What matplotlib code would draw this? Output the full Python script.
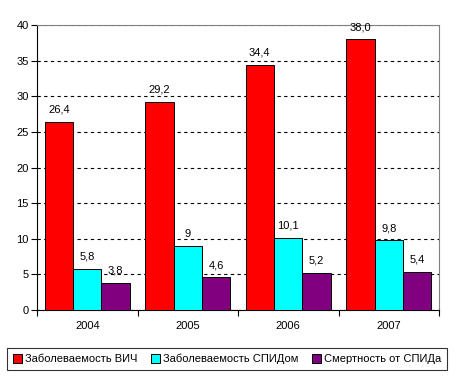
import matplotlib
matplotlib.use("Agg")
import matplotlib.pyplot as plt
import numpy as np
from matplotlib.patches import Patch

years = ["2004", "2005", "2006", "2007"]
hiv = [26.4, 29.2, 34.4, 38.0]
aids = [5.8, 9.0, 10.1, 9.8]
deaths = [3.8, 4.6, 5.2, 5.4]
hiv_lbl = ["26,4", "29,2", "34,4", "38,0"]
aids_lbl = ["5,8", "9", "10,1", "9,8"]
deaths_lbl = ["3,8", "4,6", "5,2", "5,4"]
names = ["Заболеваемость ВИЧ", "Заболеваемость СПИДом", "Смертность от СПИДа"]
colors = ["#FF0000", "#00FFFF", "#800080"]

plt.rcParams['font.family'] = ['Liberation Sans', 'DejaVu Sans']

fig = plt.figure(figsize=(4.54, 3.78), dpi=100)
ax = fig.add_axes([37/454, 1-310/378, (439-37)/454, (310-25)/378])

x = np.arange(len(years))
w = 0.283
series = [hiv, aids, deaths]
labels = [hiv_lbl, aids_lbl, deaths_lbl]
for i, (vals, lbls, c) in enumerate(zip(series, labels, colors)):
    pos = x + (i - 1) * w
    ax.bar(pos, vals, width=w, color=c, edgecolor="black", linewidth=0.7, zorder=3)
    for p, v, l in zip(pos, vals, lbls):
        ax.text(p, v + 1.0, l, ha="center", va="bottom", fontsize=8, zorder=4)

ax.set_xlim(-0.5, len(years) - 0.5)
ax.set_ylim(0, 40)
ax.set_yticks(range(0, 41, 5))
ax.set_xticks(x)
ax.set_xticklabels(years)
ax.set_xticks(np.arange(-0.5, len(years), 1), minor=True)
ax.tick_params(axis="x", which="major", length=0, labelsize=8, pad=8)
ax.tick_params(axis="x", which="minor", length=4, width=0.8, direction="out")
ax.tick_params(axis="y", length=4, width=0.8, direction="out", labelsize=8, pad=2)
ax.yaxis.grid(True, linestyle=(0, (3, 3)), color="black", linewidth=0.8, zorder=0)
ax.set_axisbelow(True)
for s in ["top", "right"]:
    ax.spines[s].set_color("#808080")
for s in ["left", "bottom"]:
    ax.spines[s].set_color("black")

handles = [Patch(facecolor=c, edgecolor="black", linewidth=0.7) for c in colors]
leg = fig.legend(handles, names, loc="center", bbox_to_anchor=(227/454, 1-359/378),
                 ncol=3, fontsize=8, frameon=True, fancybox=False, edgecolor="black",
                 handlelength=0.8, handleheight=0.8, handletextpad=0.3, columnspacing=1.2,
                 borderpad=0.5)
leg.get_frame().set_linewidth(0.8)

fig.savefig("out.png", dpi=100)
